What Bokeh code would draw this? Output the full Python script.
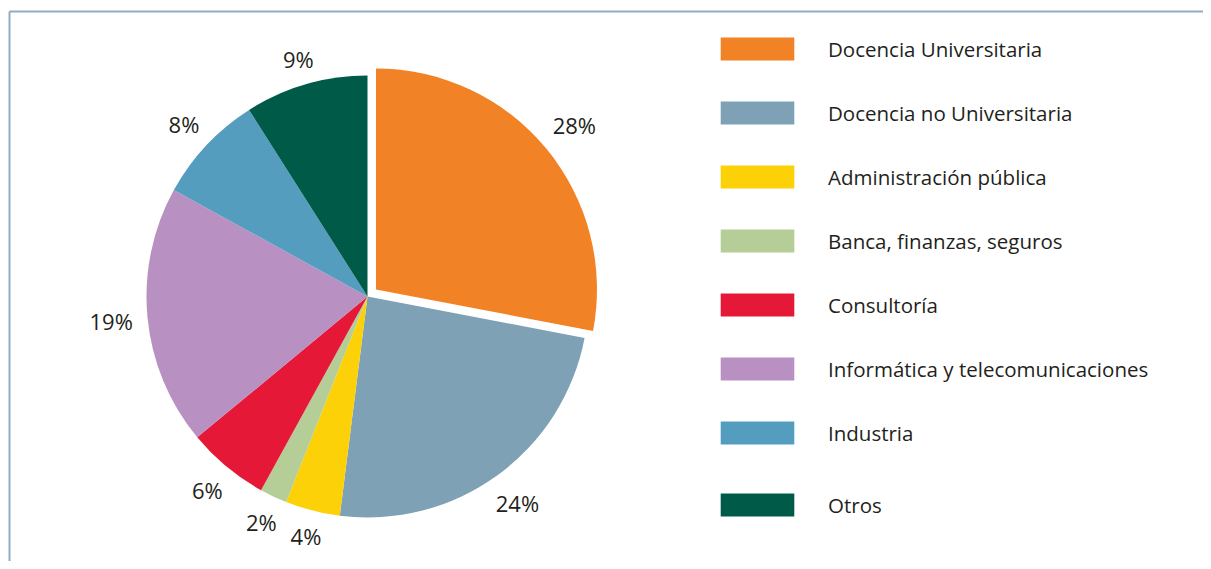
import math
from bokeh.plotting import figure
from bokeh.models import Range1d, ColumnDataSource, Legend, LegendItem
from bokeh.embed import file_html
from bokeh.resources import INLINE
from bokeh.core.properties import value

# ---- data ----
categories = ["Docencia Universitaria", "Docencia no Universitaria", "Administración pública",
              "Banca, finanzas, seguros", "Consultoría", "Informática y telecomunicaciones",
              "Industria", "Otros"]
shares = [28, 24, 4, 2, 6, 19, 8, 9]
colors = ["#F28226", "#7FA1B6", "#FDD107", "#B5CD96", "#E51937", "#B890C1", "#559DBF", "#005A48"]
explode = [11, 0, 0, 0, 0, 0, 0, 0]

# ---- layout ----
W, H = 1203, 561
CX, CY = 367, 296          # pie centre (px from top-left)
R = 221                    # pie radius (px)
FONT = "Open Sans"
TXT = "#231F20"

p = figure(width=W, height=H, x_range=Range1d(0, W), y_range=Range1d(-H, 0),
           output_backend="svg", toolbar_location=None, min_border=0,
           x_axis_type=None, y_axis_type=None)
p.grid.visible = False
p.outline_line_color = None
p.background_fill_color = "white"

# frame lines (top and left)
frame_col = "#8FADC2"
p.line([9, 9], [-H, -11], line_color=frame_col, line_width=2)
p.line([9, W], [-11, -11], line_color=frame_col, line_width=2)

total = sum(shares)
xs, ys, starts, ends, mids = [], [], [], [], []
cum = 0.0
for s, e in zip(shares, explode):
    a0 = math.pi / 2 - 2 * math.pi * cum / total
    a1 = math.pi / 2 - 2 * math.pi * (cum + s) / total
    mid = (a0 + a1) / 2
    xs.append(CX + e * math.cos(mid))
    ys.append(-CY + e * math.sin(mid))
    starts.append(a1)
    ends.append(a0)
    mids.append(mid)
    cum += s

src = ColumnDataSource(dict(x=xs, y=ys, start=starts, end=ends, color=colors, name=categories))
r = p.wedge(x="x", y="y", radius=R, start_angle="start", end_angle="end",
            fill_color="color", line_color=None, source=src)

# percentage labels
labels = [f"{s}%" for s in shares]
lx, ly = [], []
for lab, mid, e in zip(labels, mids, explode):
    tw = len(lab) * 14.5
    th = 18
    d = R + e + 14 + 0.5 * tw * abs(math.cos(mid)) + 0.5 * th * abs(math.sin(mid))
    lx.append(CX + d * math.cos(mid))
    ly.append(-CY + d * math.sin(mid))
p.text(x=lx, y=ly, text=labels, text_align="center", text_baseline="middle",
       text_font=value(FONT), text_font_size="22px", text_color=TXT)

# legend (Bokeh insets area swatches by 10% on each side)
common = dict(glyph_width=92, glyph_height=29, label_height=29,
              label_standoff=25, padding=0, margin=0,
              border_line_color=None, background_fill_alpha=0,
              label_text_font=FONT, label_text_font_size="20.5px", label_text_color=TXT)
items = [LegendItem(label=c, renderers=[r], index=i) for i, c in enumerate(categories)]
legend1 = Legend(items=items[:-1], location=(711, 114), spacing=35, **common)
legend2 = Legend(items=items[-1:], location=(711, 42), spacing=35, **common)
p.add_layout(legend1)
p.add_layout(legend2)

open("out.html", "w").write(file_html(p, INLINE))
